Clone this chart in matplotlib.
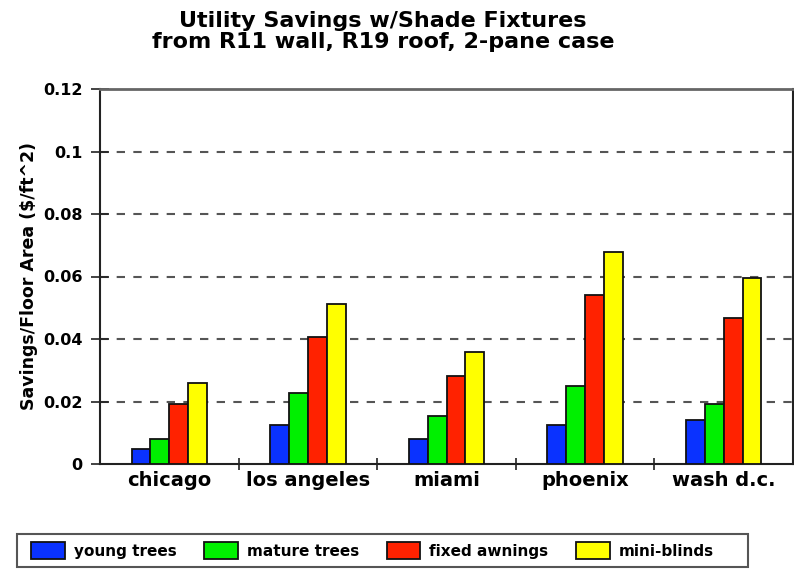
import matplotlib
matplotlib.use("Agg")
import matplotlib.pyplot as plt
from matplotlib.patches import Rectangle
import numpy as np

cities = ["chicago", "los angeles", "miami", "phoenix", "wash d.c."]
series_names = ["young trees", "mature trees", "fixed awnings", "mini-blinds"]
young_trees = [0.0047, 0.0124, 0.0081, 0.0124, 0.0140]
mature_trees = [0.0081, 0.0228, 0.0155, 0.0249, 0.0191]
fixed_awnings = [0.0191, 0.0407, 0.0281, 0.0540, 0.0466]
mini_blinds = [0.0260, 0.0512, 0.0357, 0.0679, 0.0594]
y_ticks = [0, 0.02, 0.04, 0.06, 0.08, 0.1, 0.12]
y_tick_labels = ["0", "0.02", "0.04", "0.06", "0.08", "0.1", "0.12"]
title_lines = ["Utility Savings w/Shade Fixtures", "from R11 wall, R19 roof, 2-pane case"]
y_label = "Savings/Floor Area ($/ft^2)"

colors = ["#0a32ff", "#00f000", "#ff2200", "#ffff00"]
series = [young_trees, mature_trees, fixed_awnings, mini_blinds]

plt.rcParams['font.family'] = ['DejaVu Sans']
plt.rcParams['font.weight'] = 'bold'

W, H = 794, 569
fig = plt.figure(figsize=(W / 100, H / 100), dpi=100)
ax = fig.add_axes([100 / W, (H - 464) / H, 693 / W, 375 / H])

x = np.arange(len(cities))
bw = 0.136
handles = []
for i, (vals, c, name) in enumerate(zip(series, colors, series_names)):
    b = ax.bar(x + (i - 1.5) * bw, vals, width=bw, color=c, edgecolor="#111111",
               linewidth=1.3, label=name, zorder=3)
    handles.append(b)

ax.set_xlim(-0.5, len(cities) - 0.5)
ax.set_ylim(0, 0.12)
ax.set_yticks(y_ticks)
ax.set_yticklabels(y_tick_labels, fontsize=11.5, fontweight='bold')
ax.set_xticks(x)
ax.set_xticklabels(cities, fontsize=14, fontweight='bold')
ax.tick_params(axis='x', which='major', length=0, pad=5)
ax.set_xticks(np.arange(0.5, len(cities) - 0.5, 1.0), minor=True)
ax.tick_params(axis='x', which='minor', direction='inout', length=9, width=1.2, color='#222222')
ax.tick_params(axis='y', which='major', direction='inout', length=13, width=1.2, color='#222222', pad=6)

for yv in y_ticks[1:-1]:
    ax.axhline(yv, color='#555555', linestyle=(0, (4, 4)), linewidth=1.5, zorder=1)

ax.spines['top'].set_color('#666666')
ax.spines['top'].set_linewidth(2)
ax.spines['right'].set_color('#222222')
ax.spines['right'].set_linewidth(1.5)
ax.spines['left'].set_color('#222222')
ax.spines['left'].set_linewidth(1.5)
ax.spines['bottom'].set_color('#222222')
ax.spines['bottom'].set_linewidth(1.5)

ax.set_ylabel(y_label, fontsize=12.5, fontweight='bold', labelpad=4)

fig.text(383 / W, 1 - 27 / H, title_lines[0], ha='center', va='baseline',
         fontsize=16, fontweight='bold')
fig.text(383 / W, 1 - 47.5 / H, title_lines[1], ha='center', va='baseline',
         fontsize=16, fontweight='bold')

# legend frame
fig.patches.append(Rectangle((17 / W, (H - 567) / H), 731 / W, 33 / H,
                             transform=fig.transFigure, facecolor='white',
                             edgecolor='#555555', linewidth=1.5, zorder=0))

leg = fig.legend(handles, series_names, ncol=4, mode='expand',
                 bbox_to_anchor=(31 / W, (H - 567) / H, 683 / W, 33 / H),
                 loc='center', prop={'weight': 'bold', 'size': 11},
                 frameon=False,
                 handlelength=2.2, handleheight=1.35, handletextpad=0.6,
                 borderpad=0.0, borderaxespad=0, columnspacing=1.5)

fig.savefig("out.png", dpi=100)
